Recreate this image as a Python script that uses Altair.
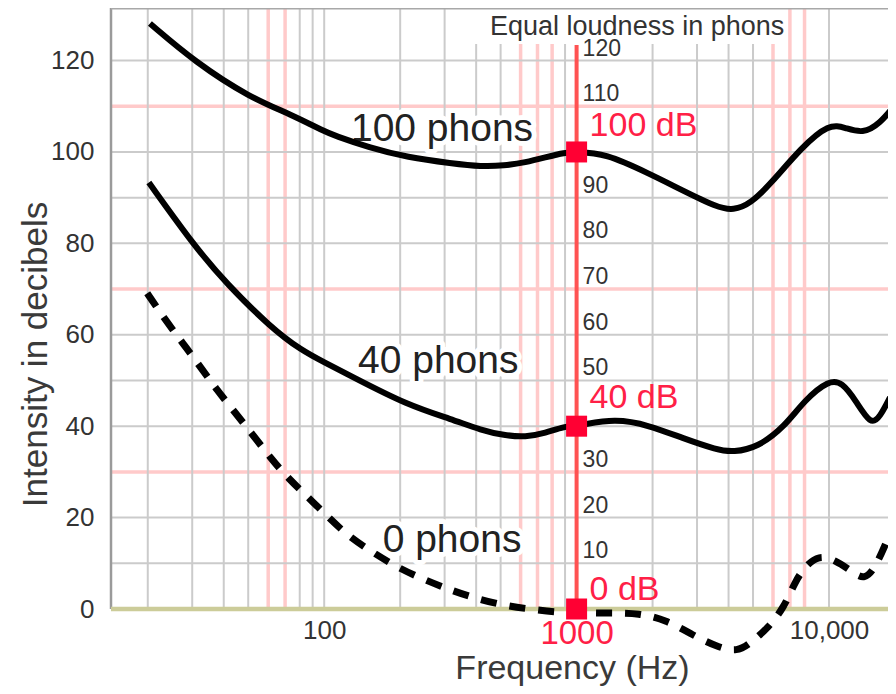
import altair as alt
import pandas as pd

FONT = "Liberation Sans"
RED_TEXT = "#ff2046"
DARK = "#333333"

# ---- curve data (frequency in Hz, intensity in dB) ----
freq_100 = [20.4, 30.9, 50.8, 74, 100, 110, 150, 214, 321, 420, 515, 628, 751, 898, 1000,
            1297, 1933, 2625, 3600, 4178, 4893, 5890, 7786, 10000, 11600, 13590, 15920, 18450]
db_100 = [128.1, 119.6, 111.9, 108.2, 104.5, 103.6, 101.0, 98.8, 97.5, 96.8, 97.0, 97.7, 98.8, 99.9, 100,
          99.7, 95.3, 91.6, 87.9, 87.2, 88.7, 93.1, 101.0, 106.2, 105.3, 104.0, 106.2, 110.6]

freq_40 = [20.2, 30.9, 40.9, 61.4, 81.3, 100, 128.5, 214, 321, 420, 515, 628, 751, 898, 1000,
           1423, 1933, 2625, 3600, 4178, 5221, 6646, 8000, 10000, 11280, 12730, 14630, 15920, 17450]
db_40 = [93.3, 79.1, 71.3, 61.6, 56.6, 54.0, 50.9, 44.6, 41.5, 39.1, 38.0, 37.6, 38.5, 40.0, 40.0,
         41.7, 40.2, 37.4, 34.8, 34.3, 35.4, 39.8, 45.7, 50.1, 49.6, 45.7, 40.2, 42.0, 46.3]

freq_0 = [19.9, 23.5, 27.6, 32.4, 37.6, 44.2, 52.3, 61.4, 72, 86.9, 104.6, 126, 158, 196, 252, 315,
          394, 502, 645, 829, 1000, 1371, 1762, 2264, 2884, 3600, 4335, 4893, 5728, 6646, 7295,
          8000, 9120, 10570, 12380, 13840, 15320, 17140]
db_0 = [69.1, 63.2, 58.1, 52.9, 47.9, 43.1, 38.0, 33.0, 28.6, 24.3, 19.9, 15.7, 12.2, 9.0, 6.3, 4.2,
        2.4, 0.9, 0.0, -0.7, -0.8, -0.9, -0.9, -2.4, -5.7, -8.3, -9.4, -7.4, -4.2, 0.4, 5.7,
        9.2, 11.8, 10.7, 8.1, 6.3, 9.2, 15.5]

# ---- grid / ticks ----
grid_gray_freq = [20, 30, 40, 50, 80, 90, 100, 200, 300, 400, 500, 900,
                  2000, 3000, 4000, 5000, 10000]
grid_pink_freq = [60, 70, 600, 700, 800, 6000, 7000, 8000]
grid_gray_db = [10, 20, 40, 50, 60, 80, 90, 100, 120]
grid_pink_db = [30, 70, 110]
y_tick_values = [0, 20, 40, 60, 80, 100, 120]
x_tick_values = [100, 1000, 10000]
phon_scale_values = [10, 20, 30, 50, 60, 70, 80, 90, 110, 120]

# ---- reference points at 1000 Hz ----
ref_db = [0, 40, 100]
ref_text = ["0 dB", "40 dB", "100 dB"]
ref_text_db = [2.0, 44.0, 103.5]

# ---- curve labels ----
curve_names = ["100 phons", "40 phons", "0 phons"]
curve_label_freq = [293, 283, 321]
curve_label_db = [102.4, 51.6, 12.5]

title_text = ["Equal loudness in phons"]
title_freq = [1737]
title_db = [125.6]

FMIN, FMAX, YMAX = 14.3, 17130, 131.5
RED_TOP = 123.4
BOX_F = [330, 6800]
BOX_DB = [123.6, YMAX]

xs = alt.Scale(type="log", domain=[FMIN, FMAX], nice=False)
ys = alt.Scale(domain=[0, YMAX], nice=False, zero=False)


def X(field="freq"):
    return alt.X(f"{field}:Q", scale=xs)


def Y(field="db"):
    return alt.Y(f"{field}:Q", scale=ys)


curves = pd.concat([
    pd.DataFrame({"freq": freq_100, "db": db_100, "curve": "100 phons"}),
    pd.DataFrame({"freq": freq_40, "db": db_40, "curve": "40 phons"}),
    pd.DataFrame({"freq": freq_0, "db": db_0, "curve": "0 phons"}),
], ignore_index=True)

y_axis = alt.Axis(values=y_tick_values, ticks=False, domain=False, grid=False, labels=True,
                  labelFont=FONT, labelFontSize=26, labelColor=DARK, labelPadding=17,
                  title="Intensity in decibels", titleFont=FONT, titleFontSize=35,
                  titleFontWeight="normal", titleColor="#3a3a3a", titleAngle=270,
                  titleX=-65, titleY=346, titleAlign="center", titleBaseline="alphabetic")

x_axis = alt.Axis(values=x_tick_values, ticks=False, domain=False, grid=False, labels=True,
                  labelFont=FONT,
                  labelFontSize={"condition": {"test": "datum.value == 1000", "value": 33}, "value": 26},
                  labelColor={"condition": {"test": "datum.value == 1000", "value": RED_TEXT}, "value": DARK},
                  labelExpr="datum.value == 10000 ? '10,000' : '' + datum.value",
                  labelPadding=8, labelFlush=False, labelOverlap=False,
                  title="Frequency (Hz)", titleFont=FONT, titleFontSize=34, titleFontWeight="normal",
                  titleColor="#3a3a3a", titleX=461, titleY=69, titleAlign="center",
                  titleBaseline="alphabetic")

# the first layer carries both axes; it draws nothing visible itself
axes_layer = alt.Chart(curves).mark_point(opacity=0, size=1).encode(
    x=alt.X("freq:Q", scale=xs, axis=x_axis),
    y=alt.Y("db:Q", scale=ys, axis=y_axis),
)

grid_h_pink = alt.Chart(pd.DataFrame({"db": grid_pink_db})).mark_rule(
    color="#ffcaca", strokeWidth=3.5).encode(y=Y())
grid_v_pink = alt.Chart(pd.DataFrame({"freq": grid_pink_freq})).mark_rule(
    color="#ffcaca", strokeWidth=3.5).encode(x=X())
grid_h_gray = alt.Chart(pd.DataFrame({"db": grid_gray_db})).mark_rule(
    color="#cbcbcb", strokeWidth=2).encode(y=Y())
grid_v_gray = alt.Chart(pd.DataFrame({"freq": grid_gray_freq})).mark_rule(
    color="#cbcbcb", strokeWidth=2).encode(x=X())

title_box = alt.Chart(pd.DataFrame({"freq": [BOX_F[0]], "f2": [BOX_F[1]],
                                    "db": [BOX_DB[0]], "d2": [BOX_DB[1]]})).mark_rect(
    color="white").encode(x=X(), x2="f2", y=Y(), y2="d2")

left_border = alt.Chart(pd.DataFrame({"freq": [FMIN]})).mark_rule(
    color="#9a9a9a", strokeWidth=2.5).encode(x=X())
top_border = alt.Chart(pd.DataFrame({"db": [YMAX]})).mark_rule(
    color="#a8a8a8", strokeWidth=3).encode(y=Y())
baseline = alt.Chart(pd.DataFrame({"db": [0]})).mark_rule(
    color="#cccc99", strokeWidth=4.5).encode(y=Y())

red_line = alt.Chart(pd.DataFrame({"freq": [1000], "db": [0], "d2": [RED_TOP]})).mark_rule(
    color="#ff5252", strokeWidth=4).encode(x=X(), y=Y(), y2="d2")

phon_scale = alt.Chart(pd.DataFrame({"db": phon_scale_values, "freq": [1000] * len(phon_scale_values)})).mark_text(
    align="left", baseline="alphabetic", dx=6, dy=-5, font=FONT, fontSize=23,
    color=DARK).encode(x=X(), y=Y(), text=alt.Text("db:Q"))

labels_df = pd.DataFrame({"freq": curve_label_freq, "db": curve_label_db, "txt": curve_names})
label_halo = alt.Chart(labels_df).mark_text(
    align="center", baseline="alphabetic", font=FONT, fontSize=39, color="white",
    stroke="white", strokeWidth=10, strokeJoin="round").encode(x=X(), y=Y(), text="txt:N")
label_text = alt.Chart(labels_df).mark_text(
    align="center", baseline="alphabetic", font=FONT, fontSize=39,
    color="#222222").encode(x=X(), y=Y(), text="txt:N")

solid = alt.Chart(curves).transform_filter("datum.curve != '0 phons'").mark_line(
    color="black", strokeWidth=6, interpolate="basis", clip=False).encode(
    x=X(), y=Y(), detail="curve:N")
dashed = alt.Chart(curves).transform_filter("datum.curve == '0 phons'").mark_line(
    color="black", strokeWidth=7, interpolate="basis", strokeDash=[16, 13],
    strokeCap="butt", clip=False).encode(x=X(), y=Y())

squares = alt.Chart(pd.DataFrame({"db": ref_db, "freq": [1000] * len(ref_db)})).mark_square(
    size=441, color="#ff0033", opacity=1, clip=False).encode(x=X(), y=Y())

ref_labels = alt.Chart(pd.DataFrame({"db": ref_text_db, "freq": [1000] * len(ref_text_db),
                                     "txt": ref_text})).mark_text(
    align="left", baseline="alphabetic", dx=13, font=FONT, fontSize=34,
    color=RED_TEXT).encode(x=X(), y=Y(), text="txt:N")

title = alt.Chart(pd.DataFrame({"freq": title_freq, "db": title_db, "txt": title_text})).mark_text(
    align="center", baseline="alphabetic", font=FONT, fontSize=27,
    color=DARK).encode(x=X(), y=Y(), text="txt:N")

chart = alt.layer(
    axes_layer,
    grid_h_pink, grid_v_pink, grid_h_gray, grid_v_gray, title_box,
    left_border, top_border, baseline, red_line, phon_scale,
    label_halo, label_text, solid, dashed, squares, ref_labels, title,
).properties(
    width=777, height=601,
    autosize=alt.AutoSizeParams(type="none"),
    padding={"left": 103, "top": 0, "right": 0, "bottom": 77},
    background="white",
).configure_view(stroke=None)

chart.save("out.html", embed_options={"renderer": "svg", "actions": False})
